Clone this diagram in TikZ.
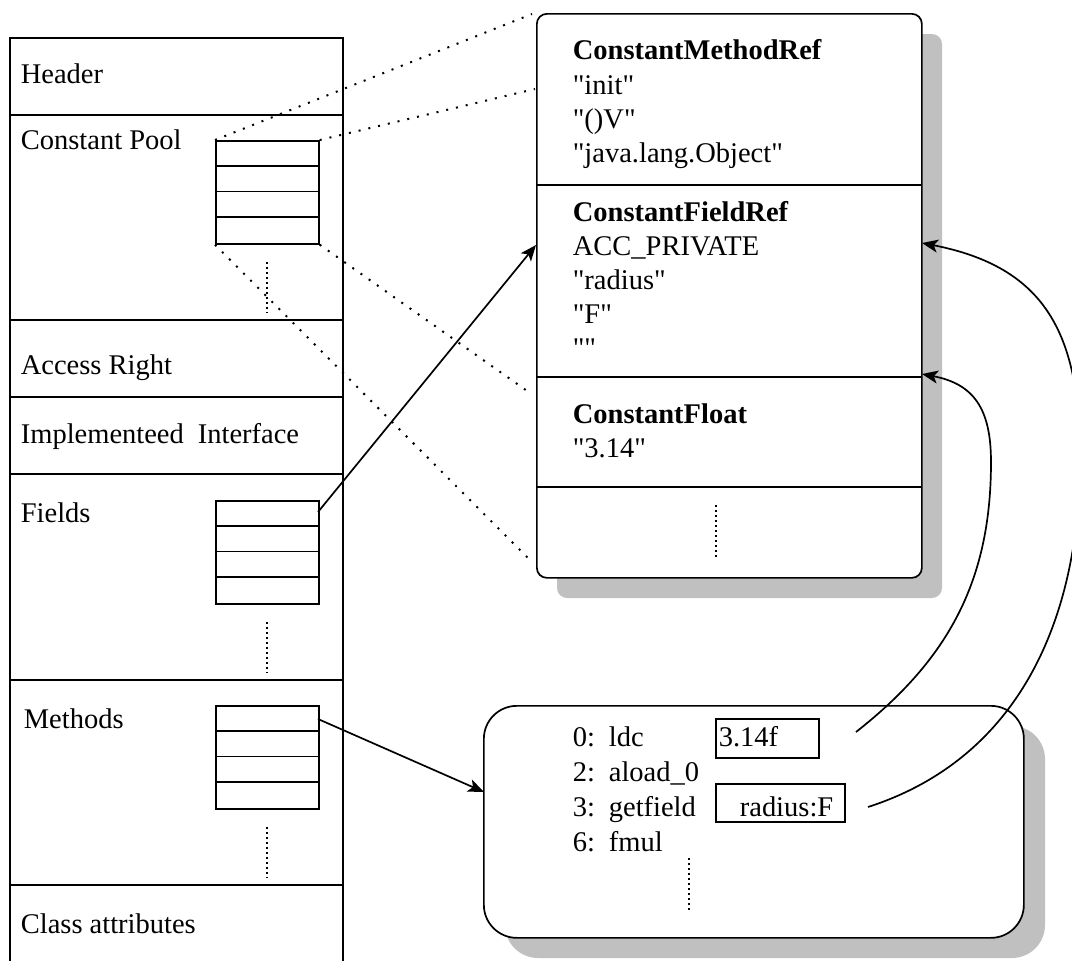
\documentclass[tikz,border=0pt]{standalone}
\usepackage{fontspec}
\setmainfont{Liberation Serif}
\usetikzlibrary{arrows.meta}
\definecolor{shadowgray}{HTML}{C0C0C0}

% straight double quote
\newcommand{\dq}{\textquotedbl}

% a four-slot table: name, left x, top y
\newcommand{\slottable}[3]{%
  \node[slots] (#1) at (#2,#3) {};
  \foreach \k in {1,2,3}
    \draw ({#2},{#3+25.75*\k}) -- ({#2+103},{#3+25.75*\k});
}

\begin{document}
\begin{tikzpicture}[x=1pt,y=-1pt,line width=1.7pt,
  font=\fontsize{28.5}{34}\selectfont,
  lbl/.style={anchor=base west,inner sep=0pt},
  slots/.style={draw,anchor=north west,inner sep=0pt,
    minimum width=103pt,minimum height=103pt},
  sparse/.style={line width=2pt,dash pattern=on 2pt off 8pt},
  dense/.style={line width=1.8pt,dash pattern=on 2pt off 3pt},
  link/.style={-{Stealth[length=16pt,width=13pt,inset=4pt]}},
  argbox/.style={draw,anchor=north west,inner sep=0pt}]

\useasboundingbox (0,0) rectangle (1072,961);

% ---- class file layout (left column) ----
\draw (10,975) -- (10,38) -- (343,38) -- (343,975);
\foreach \y in {115,320,397,474,680,885}
  \draw (10,\y) -- (343,\y);

\node[lbl] (header)  at (20,83)  {Header};
\node[lbl] (cpool)   at (20,149) {Constant Pool};
\node[lbl] (access)  at (20,374) {Access Right};
\node[lbl] (iface)   at (20,443) {Implementeed\hspace{14pt}Interface};
\node[lbl] (fields)  at (20,522) {Fields};
\node[lbl] (methods) at (23,728) {Methods};
\node[lbl] (attrs)   at (20,933) {Class attributes};

\slottable{cpt}{215}{140}
\slottable{fldt}{215}{500}
\slottable{mtht}{215}{705}

\draw[dense] (267,262) -- (267,313);
\draw[dense] (267,622) -- (267,673);
\draw[dense] (267,827) -- (267,878);

% ---- constant pool entries ----
\fill[shadowgray,rounded corners=10pt] (557,34) rectangle (942,598);
\node[draw,fill=white,rounded corners=10pt,anchor=north west,inner sep=0pt,
  minimum width=385pt,minimum height=564pt] (pool) at (536,13) {};
\foreach \y in {185,377,487}
  \draw (536,\y) -- (921,\y);

\node[lbl] (mref)  at (572,59)  {\textbf{ConstantMethodRef}};
\node[lbl] (mref1) at (572,94)  {\dq init\dq};
\node[lbl] (mref2) at (572,128) {\dq()V\dq};
\node[lbl] (mref3) at (572,162) {\dq java.lang.Object\dq};
\node[lbl] (fref)  at (572,221) {\textbf{ConstantFieldRef}};
\node[lbl] (fref1) at (572,255) {ACC\_PRIVATE};
\node[lbl] (fref2) at (572,289) {\dq radius\dq};
\node[lbl] (fref3) at (572,323) {\dq F\dq};
\node[lbl] (fref4) at (572,357) {\dq\dq};
\node[lbl] (cflt)  at (572,423) {\textbf{ConstantFloat}};
\node[lbl] (cflt1) at (572,457) {\dq 3.14\dq};
\draw[dense] (716,505) -- (716,557);

% ---- method bytecode ----
\fill[shadowgray,rounded corners=33pt] (505,726) rectangle (1045,958);
\node[draw,fill=white,rounded corners=33pt,anchor=north west,inner sep=0pt,
  minimum width=540pt,minimum height=232pt] (code) at (483,705) {};

\node[lbl] (n0) at (572,746) {0:};
\node[lbl] (i0) at (608,746) {ldc};
\node[lbl] (n2) at (572,781) {2:};
\node[lbl] (i2) at (608,781) {aload\_0};
\node[lbl] (n3) at (572,816) {3:};
\node[lbl] (i3) at (608,816) {getfield};
\node[lbl] (n6) at (572,851) {6:};
\node[lbl] (i6) at (608,851) {fmul};

\node[argbox,minimum width=103pt,minimum height=39pt] (ldcarg) at (715,718) {};
\node[lbl] (ldcval) at (718,746) {3.14f};
\node[argbox,minimum width=129pt,minimum height=38pt] (gfarg) at (715,783) {};
\node[lbl] (gfval) at (739,816) {radius:F};
\draw[dense] (689,858) -- (689,910);

% ---- connector end points ----
\coordinate (p1) at (532,14);
\coordinate (p2) at (535,89);
\coordinate (p3) at (530,393);
\coordinate (p4) at (532,562);
\coordinate (fa) at (318,512);
\coordinate (fb) at (536,245);
\coordinate (ma) at (318,719);
\coordinate (mb) at (484,792);
\coordinate (ca) at (856,732);
\coordinate (cb) at (922,374);
\coordinate (ra) at (868,807);
\coordinate (rb) at (922,243);

% constant pool expansion
\draw[sparse] (cpt.north west) -- (p1);
\draw[sparse] (cpt.north east) -- (p2);
\draw[sparse] (cpt.south east) -- (p3);
\draw[sparse] (cpt.south west) -- (p4);

% references
\draw[link] (fa) -- (fb);
\draw[link] (ma) -- (mb);
\draw[link] (ca) .. controls (949,659) and (991,580) .. (991,462)
                 .. controls (991,409) and (974,384) .. (cb);
\draw[link] (ra) .. controls (1020,758) and (1080,618) .. (1080,458)
                 .. controls (1080,333) and (1045,267) .. (rb);
\end{tikzpicture}
\end{document}
